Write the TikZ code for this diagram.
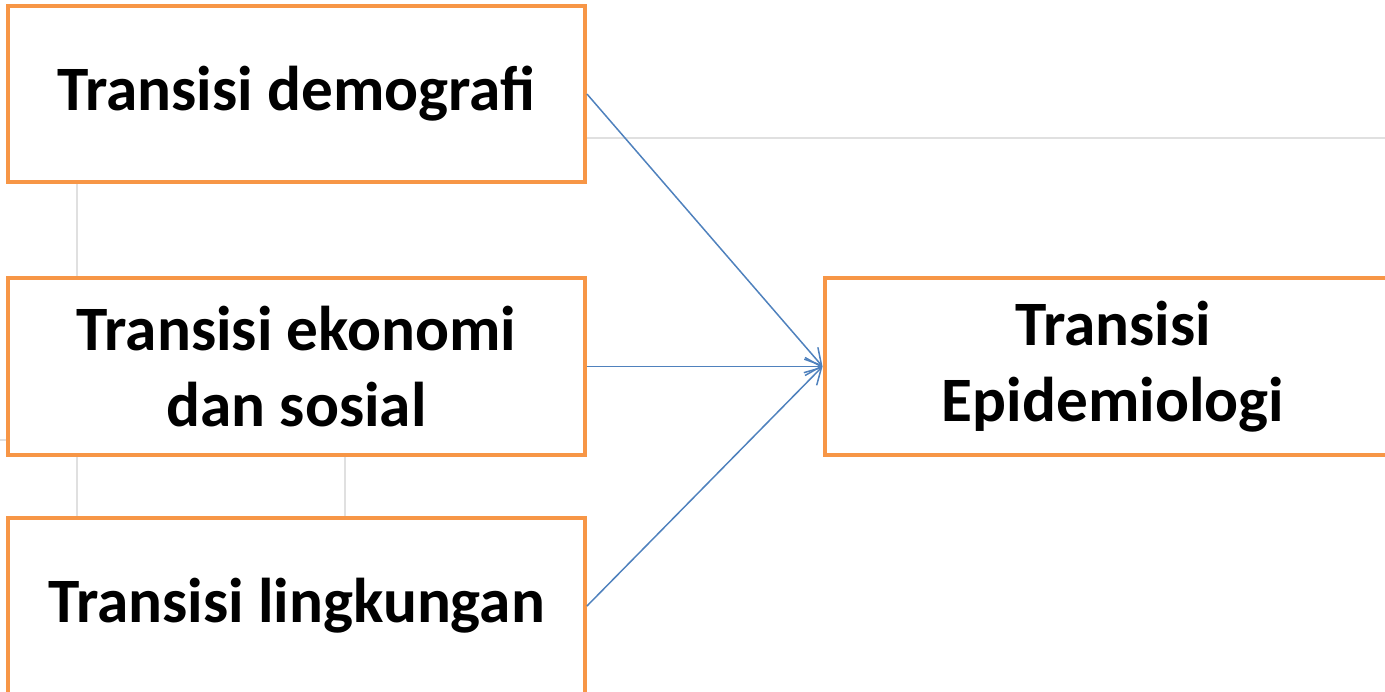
\documentclass[tikz,border=0pt]{standalone}
\usepackage{fontspec}
\setmainfont{Carlito}
\usepackage{tikz}
\usetikzlibrary{arrows.meta}
\definecolor{boxorange}{RGB}{247,150,70}
\definecolor{arrowblue}{RGB}{79,129,189}
\tikzset{orangebox/.style={shape=rectangle, draw=boxorange, fill=white, line width=2.3pt, minimum width=11.54cm, minimum height=3.53cm, align=center, font=\fontsize{36}{43}\selectfont\bfseries, inner sep=0pt},
bluearrow/.style={draw=arrowblue, line width=0.85pt, -{Straight Barb[length=0.32cm, width=0.36cm, line width=0.85pt]}},
backline/.style={draw=black!12, line width=1.6pt}}

\begin{document}
\begin{tikzpicture}[x=0.02cm, y=-0.02cm]
\useasboundingbox (0,0) rectangle (1385,692);
\clip (0,0) rectangle (1385,692);
% faint lines of the slide behind
\draw[backline] (587,138)--(1385,138) ;
\draw[backline] (77,184)--(77,278) ;
\draw[backline] (77,455)--(77,518) ;
\draw[backline] (345,455)--(345,518) ;
\draw[backline] (0,440)--(8,440) ;
\node[orangebox] (demografi) at (296.5,94) {Transisi demografi} ;
\node[orangebox] (ekonomi) at (296.5,366.5) {Transisi ekonomi\\dan sosial} ;
\node[orangebox] (lingkungan) at (296.5,606) {Transisi lingkungan} ;
\node[orangebox] (epid) at (1113,366.5) {Transisi\\Epidemiologi} ;
\foreach \src in {demografi,ekonomi,lingkungan}
{
	\draw[bluearrow] (\src.east)--(epid.west) ;
}
\end{tikzpicture}
\end{document}
